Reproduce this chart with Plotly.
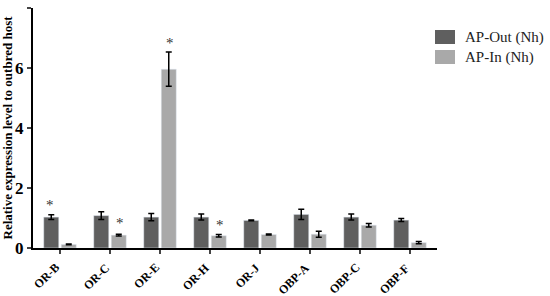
import plotly.graph_objs as go

genes = ['OR-B', 'OR-C', 'OR-E', 'OR-H', 'OR-J', 'OBP-A', 'OBP-C', 'OBP-F']
ap_out = [1.03, 1.08, 1.03, 1.03, 0.92, 1.12, 1.03, 0.93]
ap_out_err = [0.08, 0.13, 0.12, 0.10, 0.01, 0.17, 0.10, 0.05]
ap_in = [0.12, 0.43, 5.96, 0.41, 0.45, 0.46, 0.76, 0.18]
ap_in_err = [0.01, 0.03, 0.57, 0.04, 0.02, 0.10, 0.06, 0.04]
# significance marks: (gene, series, y of the star)
stars = [('OR-B', 'out', 1.43), ('OR-C', 'in', 0.83),
         ('OR-E', 'in', 6.83), ('OR-H', 'in', 0.77)]

serif = 'Liberation Serif'
dark = '#5f5f5f'
light = '#a9a9a9'

err_style = dict(type='data', visible=True, color='black', thickness=1.5, width=3)

data = [
    go.Bar(x=genes, y=ap_out, name='AP-Out (Nh)', marker=dict(color=dark),
           error_y=dict(array=ap_out_err, **err_style)),
    go.Bar(x=genes, y=ap_in, name='AP-In (Nh)', marker=dict(color=light),
           error_y=dict(array=ap_in_err, **err_style)),
]

annotations = []
for gene, series, ys in stars:
    annotations.append(dict(
        x=gene, y=ys, xref='x', yref='y', text='*', showarrow=False,
        xshift=-10 if series == 'out' else 10,
        font=dict(family=serif, size=15, color='#333333')))

# slanted category labels, end of text at the tick
for gene in genes:
    annotations.append(dict(
        x=gene, y=0, xref='x', yref='y', text=gene, showarrow=False,
        textangle=-45, xanchor='right', yanchor='top', xshift=5, yshift=-10,
        font=dict(family=serif, size=12, weight='bold', color='black')))

# hand-drawn legend (big square swatches like the original)
shapes = []
for i, (name, col) in enumerate([('AP-Out (Nh)', dark), ('AP-In (Nh)', light)]):
    top = 30 + i * 20
    shapes.append(dict(type='rect', xref='paper', yref='paper',
                       x0=(435 - 33) / 404, x1=(455 - 33) / 404,
                       y0=(248 - top - 14) / 240, y1=(248 - top) / 240,
                       fillcolor=col, line=dict(width=0)))
    annotations.append(dict(x=(463 - 33) / 404, y=(248 - top - 7) / 240,
                            xref='paper', yref='paper', xanchor='left',
                            yanchor='middle', text=name, showarrow=False,
                            font=dict(family=serif, size=15, color='#222222')))

layout = go.Layout(
    width=550, height=296,
    paper_bgcolor='white', plot_bgcolor='white',
    margin=dict(l=33, r=113, t=8, b=48),
    barmode='group', bargap=0.3, bargroupgap=0.14,
    font=dict(family=serif, color='black'),
    xaxis=dict(range=[-0.54, 7.54], showline=True, linecolor='black', linewidth=2,
               ticks='outside', ticklen=4, tickwidth=1.5,
               showticklabels=False, automargin=False),
    yaxis=dict(range=[0, 8], tickvals=[0, 2, 4, 6, 8], showline=True,
               linecolor='black', linewidth=2, ticks='outside', ticklen=4,
               tickwidth=1.5, showgrid=False, zeroline=False, automargin=False,
               tickfont=dict(size=17, family=serif, weight='bold'),
               title=dict(text='Relative expression level to outbred host',
                          font=dict(size=13, family=serif, weight='bold'),
                          standoff=2)),
    showlegend=False,
    shapes=shapes,
    annotations=annotations,
)

fig = go.Figure(data=data, layout=layout)
# drop the page's default 8px body margin so the figure sits at 0,0
fig.write_html('out.html', config={'displayModeBar': False},
               post_script="document.body.style.margin='0';")
